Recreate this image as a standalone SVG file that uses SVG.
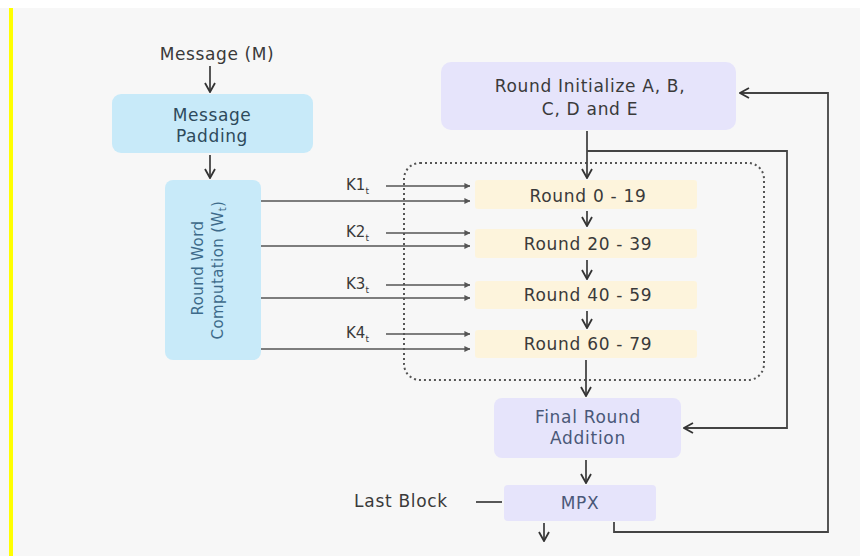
<svg xmlns="http://www.w3.org/2000/svg" width="860" height="556" viewBox="0 0 860 556">
  <style>
    text { font-family: "DejaVu Sans", "Liberation Sans", sans-serif; fill: #3a3a3a; }
    .lbl { font-size: 17px; text-anchor: middle; letter-spacing: 0.6px; }
    .big { font-size: 17px; text-anchor: middle; letter-spacing: 0.7px; }
    .rot { font-size: 15px; text-anchor: middle; letter-spacing: 0.4px; fill: #3d6a8a; }
    .k { font-size: 15px; }
    .pad { fill: #2e4a5c; }
    .sl { fill: #4a5878; }
    .blue { fill: #c8eaf9; }
    .lav { fill: #e6e4fb; }
    .yel { fill: #fdf4dc; }
    .ln { fill: none; stroke: #444; stroke-width: 1.8; }
    .thin { fill: none; stroke: #555; stroke-width: 1.3; }
    .dash { fill: none; stroke: #555; stroke-width: 2; stroke-dasharray: 2 3; }
  </style>
  <defs>
    <marker id="arr" viewBox="0 0 12 12" refX="11" refY="6" markerWidth="12" markerHeight="12" markerUnits="userSpaceOnUse" orient="auto">
      <path d="M2,1 L11,6 L2,11" fill="none" stroke="#333" stroke-width="1.8"/>
    </marker>
    <marker id="arrs" viewBox="0 0 8 8" refX="7.5" refY="4" markerWidth="6" markerHeight="6" markerUnits="userSpaceOnUse" orient="auto">
      <path d="M0,0 L8,4 L0,8 Z" fill="#555"/>
    </marker>
  </defs>

  <rect x="0" y="0" width="860" height="556" fill="#f7f7f7"/>
  <rect x="0" y="0" width="860" height="8" fill="#ffffff"/>
  <rect x="9" y="8" width="4" height="548" fill="#ffff00"/>

  <g id="message">
    <text class="lbl" x="217" y="60">Message (M)</text>
  </g>

  <g id="message-padding">
    <rect class="blue" x="112" y="94" width="201" height="59" rx="9"/>
    <text class="lbl pad" x="212" y="121">Message</text>
    <text class="lbl pad" x="212" y="142">Padding</text>
  </g>

  <g id="round-word">
    <rect class="blue" x="165" y="180" width="96" height="180" rx="8"/>
    <text class="rot" transform="translate(203 268) rotate(-90)">Round Word</text>
    <text class="rot" transform="translate(223 270) rotate(-90)">Computation (W<tspan font-size="10" dy="3">t</tspan><tspan dy="-3">)</tspan></text>
  </g>

  <g id="k-labels">
    <text class="k" x="346" y="190">K1<tspan font-size="9" dy="4">t</tspan></text>
    <text class="k" x="346" y="237">K2<tspan font-size="9" dy="4">t</tspan></text>
    <text class="k" x="346" y="289">K3<tspan font-size="9" dy="4">t</tspan></text>
    <text class="k" x="346" y="338">K4<tspan font-size="9" dy="4">t</tspan></text>
  </g>

  <g id="round-init">
    <rect class="lav" x="441" y="62" width="295" height="68" rx="10"/>
    <text class="big" x="590" y="92">Round Initialize A, B,</text>
    <text class="big" x="590" y="115">C, D and E</text>
  </g>

  <g id="loop-box">
    <rect class="dash" x="404" y="163" width="360" height="217" rx="16"/>
  </g>

  <g id="round-0-19">
    <rect class="yel" x="475" y="180" width="222" height="29" rx="3"/>
    <text class="big" x="588" y="202">Round 0 - 19</text>
  </g>
  <g id="round-20-39">
    <rect class="yel" x="475" y="229" width="222" height="29" rx="3"/>
    <text class="big" x="588" y="250">Round 20 - 39</text>
  </g>
  <g id="round-40-59">
    <rect class="yel" x="475" y="281" width="222" height="28" rx="3"/>
    <text class="big" x="588" y="301">Round 40 - 59</text>
  </g>
  <g id="round-60-79">
    <rect class="yel" x="475" y="330" width="222" height="28" rx="3"/>
    <text class="big" x="588" y="350">Round 60 - 79</text>
  </g>

  <g id="final-round">
    <rect class="lav" x="494" y="398" width="187" height="60" rx="8"/>
    <text class="big sl" x="588" y="423">Final Round</text>
    <text class="big sl" x="588" y="444">Addition</text>
  </g>

  <g id="mpx">
    <rect class="lav" x="504" y="485" width="152" height="36" rx="4"/>
    <text class="big sl" x="580" y="509">MPX</text>
  </g>

  <g id="last-block">
    <text class="big" x="401" y="507">Last Block</text>
  </g>

  <g id="connectors">
    <line class="ln" x1="210" y1="66" x2="210" y2="92" marker-end="url(#arr)"/>
    <line class="ln" x1="210" y1="155" x2="210" y2="178" marker-end="url(#arr)"/>

    <line class="thin" x1="261" y1="201" x2="470" y2="201" marker-end="url(#arrs)"/>
    <line class="thin" x1="261" y1="246" x2="470" y2="246" marker-end="url(#arrs)"/>
    <line class="thin" x1="261" y1="298" x2="470" y2="298" marker-end="url(#arrs)"/>
    <line class="thin" x1="261" y1="349" x2="470" y2="349" marker-end="url(#arrs)"/>
    <line class="thin" x1="386" y1="186" x2="470" y2="186" marker-end="url(#arrs)"/>
    <line class="thin" x1="386" y1="233" x2="470" y2="233" marker-end="url(#arrs)"/>
    <line class="thin" x1="386" y1="285" x2="470" y2="285" marker-end="url(#arrs)"/>
    <line class="thin" x1="386" y1="334" x2="470" y2="334" marker-end="url(#arrs)"/>

    <line class="ln" x1="587" y1="131" x2="587" y2="178" marker-end="url(#arr)"/>
    <polyline class="ln" points="587,151 787,151 787,428 684,428" marker-end="url(#arr)"/>
    <line class="ln" x1="587" y1="211" x2="587" y2="226" marker-end="url(#arr)"/>
    <line class="ln" x1="587" y1="260" x2="587" y2="279" marker-end="url(#arr)"/>
    <line class="ln" x1="587" y1="311" x2="587" y2="328" marker-end="url(#arr)"/>
    <line class="ln" x1="586" y1="360" x2="586" y2="396" marker-end="url(#arr)"/>
    <line class="ln" x1="586" y1="460" x2="586" y2="483" marker-end="url(#arr)"/>
    <line class="ln" x1="476" y1="502" x2="502" y2="502"/>
    <line class="ln" x1="544" y1="523" x2="544" y2="541" marker-end="url(#arr)"/>
    <polyline class="ln" points="614,522 614,532 828,532 828,93 740,93" marker-end="url(#arr)"/>
  </g>
</svg>
